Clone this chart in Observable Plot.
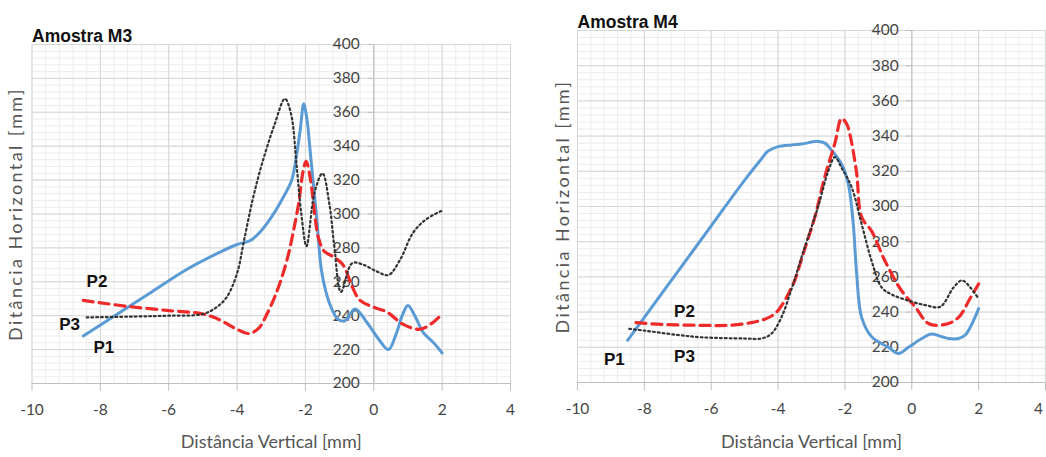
<!DOCTYPE html>
<html>
<head>
<meta charset="utf-8">
<script src="https://cdn.jsdelivr.net/npm/d3@7"></script>
<script src="https://cdn.jsdelivr.net/npm/@observablehq/plot@0.6"></script>
<style>
  body { margin: 0; background: #fff; }
  #wrap { position: relative; width: 1046px; height: 457px; overflow: hidden; background: #fff; }
  #wrap > svg { position: absolute; top: 0; }
</style>
</head>
<body>
<div id="wrap"></div>
<script>
// ---- tick labels ----
const xTicks = [-10, -8, -6, -4, -2, 0, 2, 4];
const yTicks = [200, 220, 240, 260, 280, 300, 320, 340, 360, 380, 400];
const xTitle = "Distância Vertical [mm]";
const yTitle = "Ditância Horizontal [mm]";
const panelTitles = ["Amostra M3", "Amostra M4"];
const seriesNames = ["P1", "P2", "P3"];

// ---- Amostra M3 series: [distância vertical, distância horizontal] ----
const m3P1 = [[-8.5,228],[-7.5,241],[-6.5,254],[-5.5,267],[-4.5,277.5],[-4.0,282],[-3.6,284.5],[-3.3,290],[-3.0,298],[-2.7,308],[-2.4,320],[-2.25,336],[-2.15,350],[-2.05,365],[-1.95,355],[-1.87,339],[-1.77,318],[-1.68,300],[-1.54,268],[-1.4,254],[-1.25,245],[-1.05,238],[-0.85,237],[-0.55,244],[-0.2,236],[0.15,226],[0.43,220],[0.65,229],[0.85,241],[1.0,246],[1.2,240],[1.45,230],[1.75,224],[2.0,218]];
const m3P2 = [[-8.5,249],[-7.2,245.5],[-6,243],[-5,241],[-4.5,237.5],[-4.1,233],[-3.65,229.5],[-3.35,233],[-3.15,240],[-2.9,251],[-2.7,262],[-2.5,276],[-2.35,290],[-2.2,306],[-2.07,325],[-1.98,331],[-1.85,320],[-1.73,300],[-1.62,286],[-1.45,278],[-1.2,275],[-0.9,270],[-0.65,258],[-0.4,249],[0.0,245],[0.4,242],[0.85,235],[1.35,232],[1.7,235.5],[2.0,241]];
const m3P3 = [[-8.4,239],[-7,239.5],[-6,240],[-5,241],[-4.6,245],[-4.3,251],[-4.0,265],[-3.8,284],[-3.55,308],[-3.28,329],[-2.9,353],[-2.6,368],[-2.42,359],[-2.26,329],[-2.12,300],[-1.97,281],[-1.73,313],[-1.5,324],[-1.3,306],[-1.15,280],[-0.96,254],[-0.63,271],[-0.3,270],[0.1,266],[0.43,264],[0.77,273],[1.15,289],[1.54,297],[2.0,302]];

// ---- Amostra M4 series ----
const m4P1 = [[-8.5,224],[-8,237],[-7,263],[-6,289],[-5,315],[-4.5,327],[-4.3,331.5],[-4.0,334],[-3.6,335],[-3.3,335.5],[-2.8,337],[-2.6,336],[-2.4,332],[-2.1,324],[-1.9,313],[-1.75,290],[-1.65,262],[-1.5,237],[-1.2,226],[-0.7,220],[-0.4,216.5],[-0.1,220],[0.3,225],[0.6,227.5],[0.9,226],[1.1,225],[1.4,225],[1.6,227],[2.0,242]];
const m4P2 = [[-8.25,234],[-7.5,233],[-6.3,232.5],[-5.5,232.5],[-4.8,234],[-4.4,236],[-4.1,239],[-3.85,245],[-3.65,252],[-3.5,258],[-3.3,270],[-3.2,276],[-2.9,294],[-2.6,317],[-2.3,336],[-2.1,350],[-1.95,347],[-1.85,341],[-1.65,319],[-1.5,294],[-1.2,286],[-0.8,269],[-0.3,252],[0.1,243],[0.5,233.5],[1.0,233],[1.4,237],[1.75,248],[2.0,256]];
const m4P3 = [[-8.45,230.5],[-8,229.5],[-7,227],[-6.3,225.7],[-5,225],[-4.5,225],[-4.2,227.7],[-3.9,237],[-3.6,253],[-3.3,271],[-3.2,277],[-2.8,300],[-2.5,320],[-2.3,328],[-2.1,322],[-1.8,311],[-1.5,290],[-1.2,269],[-0.9,254],[-0.6,250],[-0.1,246.5],[0.4,244],[0.85,243],[1.25,254],[1.5,258],[1.75,254],[2.0,247.5]];

// ---- series label anchors (data coordinates) ----
const m3LabelX = [-7.9, -8.1, -8.9];
const m3LabelY = [221, 260, 235];
const m4LabelX = [-8.9, -6.8, -6.8];
const m4LabelY = [213, 240.5, 215];

const minorX = d3.range(-10, 4.001, 0.4);
const minorY = d3.range(200, 400.001, 4);

const styles = {
  P1: {stroke: "#5b9bd5", strokeWidth: 3},
  P2: {stroke: "#ee2a2a", strokeWidth: 3.2, strokeDasharray: "10,6"},
  P3: {stroke: "#333", strokeWidth: 2.2, strokeDasharray: "1.8,3"}
};

function panel(cfg) {
  const labels = seriesNames.map((n, i) => ({name: n, x: cfg.lx[i], y: cfg.ly[i]}));
  const tickFill = "#444";
  const lastTick = xTicks[xTicks.length - 1];
  const svg = Plot.plot({
    width: 523,
    height: 457,
    marginLeft: cfg.ml,
    marginRight: cfg.mr,
    marginTop: cfg.mt,
    marginBottom: cfg.mb,
    x: {domain: [-10, 4], axis: null},
    y: {domain: [200, 400], axis: null},
    style: {fontFamily: "Lato, sans-serif", background: "#fff", overflow: "visible"},
    marks: [
      Plot.ruleX(minorX, {stroke: "#ececec", strokeWidth: 1}),
      Plot.ruleY(minorY, {stroke: "#ececec", strokeWidth: 1}),
      Plot.ruleX(xTicks, {stroke: "#d6d6d6", strokeWidth: 1}),
      Plot.ruleY(yTicks, {stroke: "#d6d6d6", strokeWidth: 1}),
      Plot.ruleY([200], {stroke: "#bfbfbf", strokeWidth: 1.2}),
      Plot.ruleX([0], {y1: 200, y2: 400, stroke: "#c4c4c4", strokeWidth: 1.2}),
      Plot.ruleY(yTicks, {y: d => d, x1: -0.16, x2: 0, stroke: "#bfbfbf"}),
      Plot.ruleX(xTicks, {x: d => d, y1: 200, y2: 195.4, stroke: "#bfbfbf"}),
      Plot.text(yTicks, {x: 0, y: d => d, dx: cfg.ydx, text: d => String(d), textAnchor: "end", fontSize: 15.5, fill: tickFill}),
      Plot.text(xTicks.slice(0, -1), {x: d => d, y: 200, dy: 27, text: d => String(d), fontSize: 15.5, fill: tickFill}),
      Plot.text([lastTick], {x: d => d, y: 200, dy: 27, dx: cfg.lastDx, text: d => String(d), fontSize: 15.5, fill: tickFill}),
      Plot.text([xTitle], {frameAnchor: "bottom", textAnchor: "middle", dy: cfg.xtdy, fontSize: 18, fill: "#555"}),
      Plot.text([yTitle], {frameAnchor: "left", textAnchor: "middle", dx: cfg.ytdx, rotate: -90, fontSize: 18, fill: "#555"}),
      Plot.text([cfg.title], {frameAnchor: "top-left", textAnchor: "start", lineAnchor: "bottom", dy: -3, fontSize: 17.5, fontWeight: "bold", fontFamily: "Liberation Sans, Arial, sans-serif", fill: "#111"}),
      Plot.line(cfg.data[0], {x: d => d[0], y: d => d[1], curve: "catmull-rom", ...styles.P1}),
      Plot.line(cfg.data[1], {x: d => d[0], y: d => d[1], curve: "catmull-rom", ...styles.P2}),
      Plot.line(cfg.data[2], {x: d => d[0], y: d => d[1], curve: "catmull-rom", ...styles.P3}),
      Plot.text(labels, {x: "x", y: "y", text: "name", fontSize: 17, fontWeight: "bold", fontFamily: "Liberation Sans, Arial, sans-serif", fill: "#111"})
    ]
  });
  d3.select(svg).selectAll("text").filter(function () { return this.textContent === yTitle; })
    .attr("letter-spacing", "2.4px");
  svg.style.left = cfg.left + "px";
  return svg;
}

const wrap = document.getElementById("wrap");
wrap.appendChild(panel({
  left: 0, ml: 31.5, mr: 13, mt: 44, mb: 74, ydx: -14, xtdy: 64, ytdx: -16, lastDx: 0,
  title: panelTitles[0], data: [m3P1, m3P2, m3P3], lx: m3LabelX, ly: m3LabelY
}));
wrap.appendChild(panel({
  left: 523, ml: 54, mr: 1, mt: 30, mb: 75, ydx: -13, xtdy: 65, ytdx: -14.5, lastDx: -7,
  title: panelTitles[1], data: [m4P1, m4P2, m4P3], lx: m4LabelX, ly: m4LabelY
}));
</script>
</body>
</html>
